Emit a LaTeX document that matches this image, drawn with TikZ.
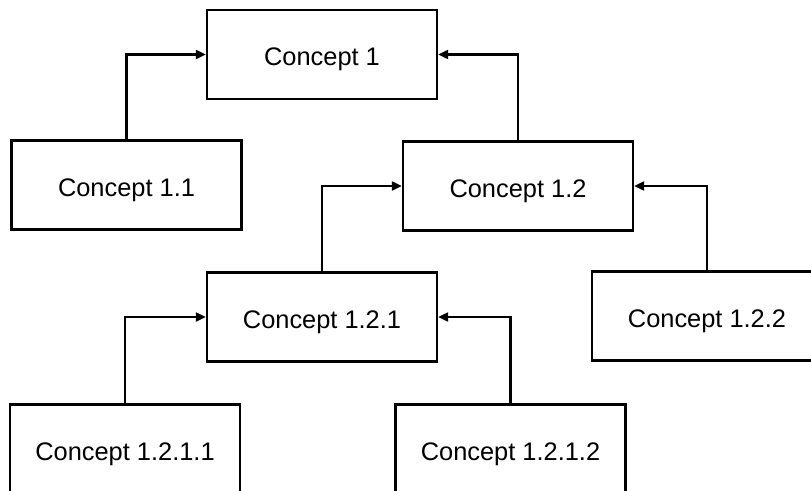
\documentclass[tikz,border=0pt]{standalone}
\usepackage{fontspec}
\setmainfont{Liberation Sans}
\usetikzlibrary{arrows.meta}
\begin{document}
\begin{tikzpicture}[x=1pt,y=-1pt,
  concept/.style={draw=black, line width=2.4pt, fill=white,
    minimum width=230pt, minimum height=89pt, inner sep=0pt,
    text height=22pt, text depth=0pt,
    font=\fontsize{25.4}{30}\selectfont},
  link/.style={draw=black, line width=2.2pt,
    -{Triangle[length=10pt,width=9pt]}}]
  % page frame, boxes running past it are cut off
  \clip (0,0) rectangle (811,490);
  \fill[white] (0,0) rectangle (811,490);

  \node[concept] (c1)    at (322,54.5) {Concept 1};
  \node[concept] (c11)   at (126.5,185) {Concept 1.1};
  \node[concept] (c12)   at (518,186)  {Concept 1.2};
  \node[concept] (c121)  at (322,317)  {Concept 1.2.1};
  \node[concept] (c122)  at (707,316)  {Concept 1.2.2};
  \node[concept] (c1211) at (125,449)  {Concept 1.2.1.1};
  \node[concept] (c1212) at (510.5,449) {Concept 1.2.1.2};

  \draw[link] (c11.north)   |- (c1.west);
  \draw[link] (c12.north)   |- (c1.east);
  \draw[link] (c121.north)  |- (c12.west);
  \draw[link] (c122.north)  |- (c12.east);
  \draw[link] (c1211.north) |- (c121.west);
  \draw[link] (c1212.north) |- (c121.east);
\end{tikzpicture}
\end{document}
